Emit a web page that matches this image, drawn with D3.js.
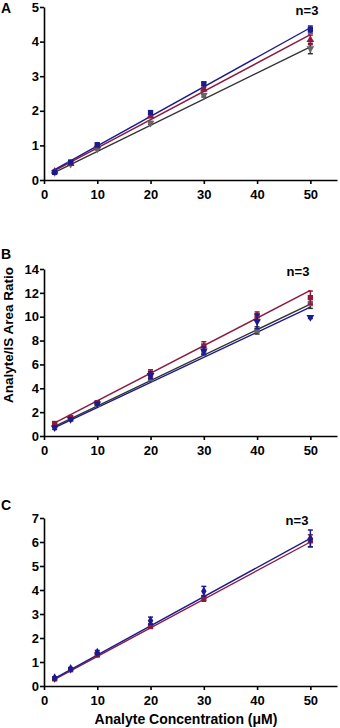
<!DOCTYPE html>
<html>
<head>
<meta charset="utf-8">
<script src="https://cdn.jsdelivr.net/npm/d3@7"></script>
<style>
  body { margin: 0; background: #fff; }
  svg { display: block; font-family: "Liberation Sans", Arial, sans-serif; font-weight: bold; }
</style>
</head>
<body>
<div id="chart"></div>
<script>
// concentrations (uM)
const concA = [2, 5, 10, 20, 30, 50];
const concB = [2, 5, 10, 20, 30, 40, 50];
const concC = [2, 5, 10, 20, 30, 50];
const xTicks = [0, 10, 20, 30, 40, 50];

// panel A
const blueA = [0.22, 0.52, 1.02, 1.95, 2.78, 4.35];
const blueAErr = [0.03, 0.03, 0.04, 0.05, 0.05, 0.1];
const redA = [0.25, 0.47, 0.98, 1.85, 2.62, 4.05];
const redAErr = [0.03, 0.03, 0.03, 0.05, 0.05, 0.14];
const blackA = [0.22, 0.46, 0.9, 1.65, 2.45, 3.8];
const blackAErr = [0.02, 0.03, 0.03, 0.04, 0.05, 0.15];
const fitA = { blue: [0.3, 4.4], red: [0.27, 4.2], black: [0.22, 3.85] };

// panel B
const redB = [1.05, 1.55, 2.8, 5.25, 7.55, 10.1, 11.6];
const redBErr = [0.1, 0.1, 0.1, 0.3, 0.35, 0.3, 0.55];
const blackB = [0.85, 1.4, 2.65, 4.8, 7.0, 8.85, 11.1];
const blackBErr = [0.1, 0.1, 0.1, 0.2, 0.2, 0.3, 0.4];
const blueB = [0.7, 1.4, 2.7, 5.1, 7.15, 9.6, 9.95];
const blueBErr = [0.15, 0.1, 0.1, 0.3, 0.3, 0.6, 0.1];
const fitB = { red: [1.1, 12.2], black: [0.8, 11.05], blue: [0.7, 10.8] };

// panel C
const redC = [0.3, 0.68, 1.3, 2.5, 3.65, 6.05];
const redCErr = [0.05, 0.05, 0.08, 0.1, 0.12, 0.25];
const blueC = [0.33, 0.72, 1.4, 2.72, 3.95, 6.15];
const blueCErr = [0.05, 0.05, 0.08, 0.15, 0.2, 0.35];
const fitC = { red: [0.28, 6.0], blue: [0.32, 6.15] };

const colors = { blue: '#1b1b8f', red: '#8c1a3c', black: '#333333', gray: '#666666' };

const width = 340, height = 728;
const svg = d3.select('#chart').append('svg')
  .attr('width', width)
  .attr('height', height);

function makeSeries(conc, vals, errs, color, marker, fill) {
  return conc.map((c, i) => ({ x: c, y: vals[i], e: errs[i], color: color, marker: marker, fill: fill || color }));
}

function drawPanel(opt) {
  const x = d3.scaleLinear().domain([0, 55]).range([44, 337]);
  const y = d3.scaleLinear().domain([0, opt.yMax]).range([opt.bottom, opt.top]);

  const g = svg.append('g');

  // fit lines
  opt.fits.forEach(f => {
    g.append('line')
      .attr('x1', x(2)).attr('y1', y(f.v[0]))
      .attr('x2', x(50)).attr('y2', y(f.v[1]))
      .attr('stroke', f.color)
      .attr('stroke-width', 1.4);
  });

  // error bars and markers
  opt.series.forEach(s => {
    s.forEach(d => {
      const cx = x(d.x), cy = y(d.y);
      g.append('line')
        .attr('x1', cx).attr('x2', cx)
        .attr('y1', y(d.y - d.e)).attr('y2', y(d.y + d.e))
        .attr('stroke', d.color).attr('stroke-width', 1.5);
      [d.y - d.e, d.y + d.e].forEach(v => {
        g.append('line')
          .attr('x1', cx - 2.5).attr('x2', cx + 2.5)
          .attr('y1', y(v)).attr('y2', y(v))
          .attr('stroke', d.color).attr('stroke-width', 1.5);
      });
      const type = d.marker === 'down' ? d3.symbolTriangle : d.marker;
      const sym = d3.symbol().type(type).size(type === d3.symbolSquare ? 28 : 26);
      g.append('path')
        .attr('d', sym())
        .attr('transform', `translate(${cx},${cy})` + (d.marker === 'down' ? ' rotate(180)' : ''))
        .attr('fill', d.fill);
    });
  });

  // axes
  const xAxis = g.append('g')
    .attr('transform', `translate(0,${opt.bottom})`)
    .call(d3.axisBottom(x).tickValues(xTicks).tickFormat(d3.format('d')).tickSize(4).tickSizeOuter(0));
  const yAxis = g.append('g')
    .attr('transform', `translate(44,0)`)
    .call(d3.axisLeft(y).tickValues(d3.range(0, opt.yMax + 0.001, opt.yStep)).tickFormat(d3.format('d')).tickSize(4).tickSizeOuter(0));

  [xAxis, yAxis].forEach(a => {
    a.select('.domain').attr('stroke', '#000').attr('stroke-width', 1.6);
    a.selectAll('.tick line').attr('stroke', '#000').attr('stroke-width', 1.6);
    a.selectAll('.tick text')
      .attr('fill', '#000')
      .attr('font-size', '13px')
      .attr('font-weight', 'bold')
      .attr('font-family', '"Liberation Sans", Arial, sans-serif');
  });
  xAxis.selectAll('.tick text').attr('dy', '0.9em');
  yAxis.selectAll('.tick text').attr('x', -5);

  // panel letter and n label
  svg.append('text')
    .attr('x', 1).attr('y', opt.letterY)
    .attr('font-size', '14px')
    .text(opt.letter);
  svg.append('text')
    .attr('x', opt.nX).attr('y', opt.nY)
    .attr('text-anchor', 'middle')
    .attr('font-size', '13px')
    .text('n=3');
}

drawPanel({
  letter: 'A', letterY: 13, yMax: 5, yStep: 1, top: 7, bottom: 180, nX: 307, nY: 15,
  fits: [
    { v: fitA.black, color: colors.black },
    { v: fitA.red, color: colors.red },
    { v: fitA.blue, color: colors.blue }
  ],
  series: [
    makeSeries(concA, blackA, blackAErr, colors.black, 'down', colors.gray),
    makeSeries(concA, redA, redAErr, colors.red, d3.symbolTriangle),
    makeSeries(concA, blueA, blueAErr, colors.blue, d3.symbolSquare)
  ]
});

drawPanel({
  letter: 'B', letterY: 259, yMax: 14, yStep: 2, top: 269, bottom: 436, nX: 298, nY: 276,
  fits: [
    { v: fitB.red, color: colors.red },
    { v: fitB.black, color: colors.black },
    { v: fitB.blue, color: colors.blue }
  ],
  series: [
    makeSeries(concB, blackB, blackBErr, colors.black, d3.symbolSquare, colors.gray),
    makeSeries(concB, redB, redBErr, colors.red, d3.symbolSquare),
    makeSeries(concB, blueB, blueBErr, colors.blue, 'down')
  ]
});

drawPanel({
  letter: 'C', letterY: 510, yMax: 7, yStep: 1, top: 518, bottom: 686, nX: 297, nY: 525,
  fits: [
    { v: fitC.red, color: colors.red },
    { v: fitC.blue, color: colors.blue }
  ],
  series: [
    makeSeries(concC, redC, redCErr, colors.red, d3.symbolSquare),
    makeSeries(concC, blueC, blueCErr, colors.blue, d3.symbolDiamond)
  ]
});

// axis titles
svg.append('text')
  .attr('transform', 'translate(13,335) rotate(-90)')
  .attr('text-anchor', 'middle')
  .attr('font-size', '13.5px')
  .text('Analyte/IS Area Ratio');

svg.append('text')
  .attr('x', 186).attr('y', 724)
  .attr('text-anchor', 'middle')
  .attr('font-size', '14px')
  .text('Analyte Concentration (\u03bcM)');
</script>
</body>
</html>
